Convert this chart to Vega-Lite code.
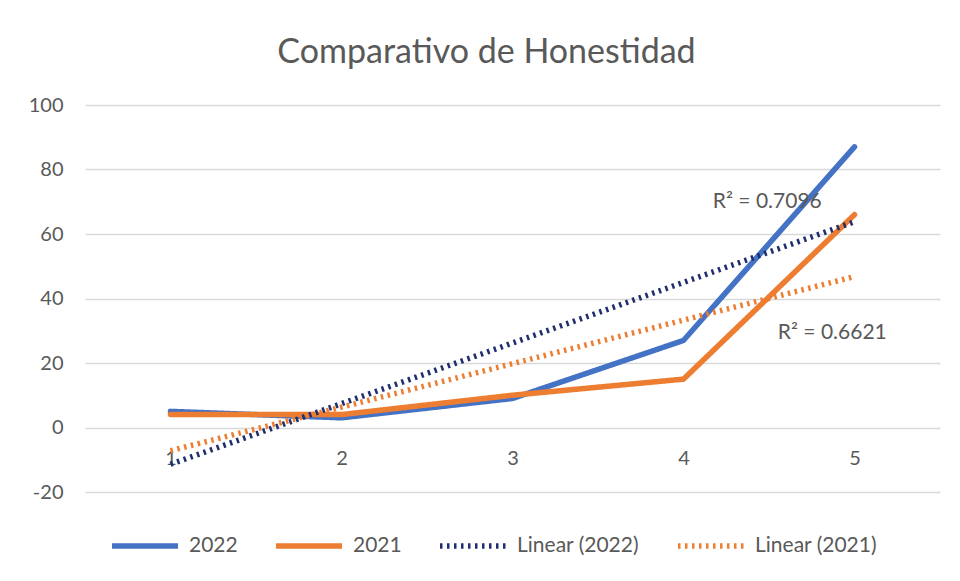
{
  "$schema": "https://vega.github.io/schema/vega-lite/v6.json",
  "autosize": "none",
  "width": 855,
  "height": 387,
  "padding": {"left": 85, "top": 105, "right": 20, "bottom": 89},
  "background": "white",
  "title": {
    "text": "Comparativo de Honestidad",
    "font": "Lato",
    "fontSize": 34,
    "fontWeight": "normal",
    "color": "#595959",
    "anchor": "middle",
    "frame": "group",
    "dx": -26,
    "offset": 25
  },
  "config": {
    "view": {"stroke": null},
    "font": "Lato",
    "axis": {
      "labelFont": "Lato",
      "labelFontSize": 20,
      "labelColor": "#595959",
      "ticks": false,
      "domain": false,
      "title": null
    },
    "legend": {
      "labelFont": "Lato",
      "labelFontSize": 21,
      "labelColor": "#595959"
    }
  },
  "datasets": {
    "main": [
      {"x": 1, "value": 5, "series": "2022", "trend": "Linear (2022)"},
      {"x": 2, "value": 3, "series": "2022", "trend": "Linear (2022)"},
      {"x": 3, "value": 9, "series": "2022", "trend": "Linear (2022)"},
      {"x": 4, "value": 27, "series": "2022", "trend": "Linear (2022)"},
      {"x": 5, "value": 87, "series": "2022", "trend": "Linear (2022)"},
      {"x": 1, "value": 4, "series": "2021", "trend": "Linear (2021)"},
      {"x": 2, "value": 4, "series": "2021", "trend": "Linear (2021)"},
      {"x": 3, "value": 10, "series": "2021", "trend": "Linear (2021)"},
      {"x": 4, "value": 15, "series": "2021", "trend": "Linear (2021)"},
      {"x": 5, "value": 66, "series": "2021", "trend": "Linear (2021)"}
    ],
    "labels": [
      {"x": 4.49, "value": 70, "label": "R² = 0.7096"},
      {"x": 4.87, "value": 29.3, "label": "R² = 0.6621"}
    ]
  },
  "layer": [
    {
      "data": {"name": "main"},
      "mark": {"type": "line", "strokeCap": "round", "strokeJoin": "round"},
      "encoding": {
        "x": {
          "field": "x",
          "type": "quantitative",
          "scale": {"domain": [0.5, 5.5], "nice": false, "zero": false},
          "axis": {
            "values": [1, 2, 3, 4, 5],
            "format": "d",
            "grid": false,
            "offset": -64.5,
            "labelPadding": 21,
            "labelFlush": false
          }
        },
        "y": {
          "field": "value",
          "type": "quantitative",
          "scale": {"domain": [-20, 100], "nice": false, "zero": false},
          "axis": {
            "values": [-20, 0, 20, 40, 60, 80, 100],
            "labelExpr": "datum.value + ''",
            "grid": true,
            "gridColor": "#d9d9d9",
            "gridWidth": 1.5,
            "labelPadding": 22
          }
        },
        "color": {
          "field": "series",
          "type": "nominal",
          "scale": {
            "domain": ["2022", "2021", "Linear (2022)", "Linear (2021)"],
            "range": ["#4472C4", "#ED7D31", "#1F2F6E", "#ED7D31"]
          },
          "legend": {
            "title": null,
            "orient": "none",
            "legendX": 24,
            "legendY": 405,
            "direction": "horizontal",
            "columns": 4,
            "columnPadding": 27,
            "symbolType": "stroke",
            "symbolSize": 4356,
            "labelOffset": 8
          }
        },
        "strokeDash": {
          "field": "series",
          "type": "nominal",
          "scale": {
            "domain": ["2022", "2021", "Linear (2022)", "Linear (2021)"],
            "range": [[1, 0], [1, 0], [2.5, 4.5], [2.5, 4.5]]
          },
          "legend": null
        },
        "strokeWidth": {
          "field": "series",
          "type": "nominal",
          "scale": {
            "domain": ["2022", "2021", "Linear (2022)", "Linear (2021)"],
            "range": [5.5, 5.5, 3, 3]
          },
          "legend": null
        }
      }
    },
    {
      "data": {"name": "main"},
      "transform": [
        {"regression": "value", "on": "x", "groupby": ["trend"], "method": "linear"}
      ],
      "mark": {"type": "line"},
      "encoding": {
        "x": {"field": "x", "type": "quantitative"},
        "y": {"field": "value", "type": "quantitative"},
        "color": {"field": "trend", "type": "nominal"},
        "strokeDash": {"field": "trend", "type": "nominal"},
        "strokeWidth": {"field": "trend", "type": "nominal"}
      }
    },
    {
      "data": {"name": "labels"},
      "mark": {"type": "text", "font": "Lato", "fontSize": 21, "color": "#595959"},
      "encoding": {
        "x": {"field": "x", "type": "quantitative"},
        "y": {"field": "value", "type": "quantitative"},
        "text": {"field": "label"}
      }
    }
  ]
}
